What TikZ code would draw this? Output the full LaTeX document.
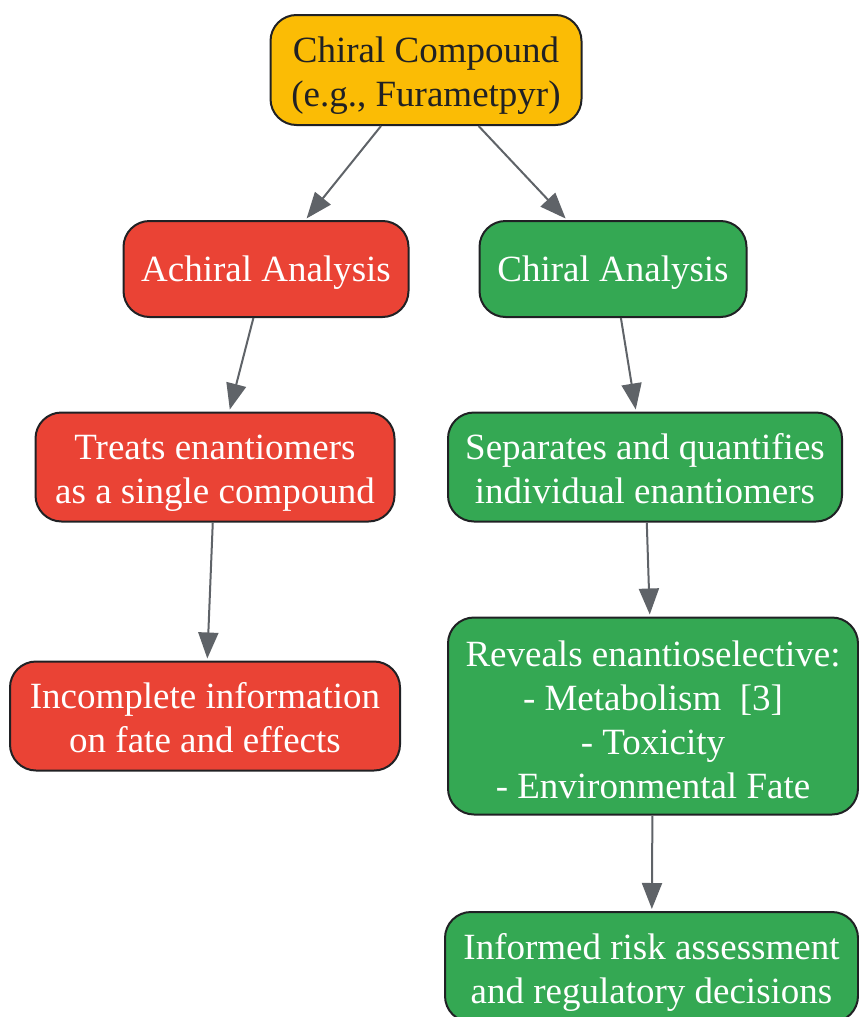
\documentclass[tikz,border=0pt]{standalone}
\usepackage{fontspec}
\setmainfont{Liberation Serif}
\usetikzlibrary{arrows.meta}
\definecolor{cyellow}{HTML}{FBBC05}
\definecolor{cred}{HTML}{EA4335}
\definecolor{cgreen}{HTML}{34A853}
\definecolor{cedge}{HTML}{5F6368}
\definecolor{cborder}{HTML}{202124}
\newcommand{\boxtext}[2][-2pt]{\raisebox{#1}[\height][\depth]{\begin{tabular}{@{}c@{}}#2\end{tabular}}}
\tikzset{
  box/.style={draw=cborder, line width=1pt, rounded corners=13pt, align=center,
    inner sep=0pt, font=\fontsize{18.5}{22}\selectfont},
  yellowbox/.style={box, fill=cyellow, text=cborder},
  redbox/.style={box, fill=cred, text=white},
  greenbox/.style={box, fill=cgreen, text=white},
  conn/.style={draw=cedge, line width=1pt, -{Triangle[length=13pt,width=10pt]}, shorten >=1pt}
}
\begin{document}
\begin{tikzpicture}[x=0.5pt,y=-0.5pt]
\useasboundingbox (0,0) rectangle (858,1017);
\node[yellowbox, minimum width=155.5pt, minimum height=55pt] (top) at (426,70) {\boxtext[-3pt]{Chiral Compound\\(e.g., Furametpyr)}};
\node[redbox, minimum width=142.5pt, minimum height=48pt] (achiral) at (266,269) {\boxtext{Achiral Analysis}};
\node[greenbox, minimum width=133.5pt, minimum height=48pt] (chiral) at (613,269) {\boxtext{Chiral Analysis}};
\node[redbox, minimum width=179.5pt, minimum height=54.5pt] (treats) at (215,467) {\boxtext[-3pt]{Treats enantiomers\\as a single compound}};
\node[greenbox, minimum width=197pt, minimum height=54.5pt] (separates) at (645,467) {\boxtext[-3pt]{Separates and quantifies\\individual enantiomers}};
\node[redbox, minimum width=195pt, minimum height=54.5pt] (incomplete) at (205,716) {\boxtext[-3pt]{Incomplete information\\on fate and effects}};
\node[greenbox, minimum width=205pt, minimum height=98.5pt] (reveals) at (653,716) {\boxtext[-4pt]{Reveals enantioselective:\\- Metabolism\ \ [3]\\- Toxicity\\- Environmental Fate}};
\node[greenbox, minimum width=206.5pt, minimum height=55pt] (informed) at (651.5,967) {\boxtext[-3pt]{Informed risk assessment\\and regulatory decisions}};
\draw[conn] (top) -- (achiral);
\draw[conn] (top) -- (chiral);
\draw[conn] (achiral) -- (treats);
\draw[conn] (chiral) -- (separates);
\draw[conn] (treats) -- (incomplete);
\draw[conn] (separates) -- (reveals);
\draw[conn] (reveals) -- (informed);
\end{tikzpicture}
\end{document}
